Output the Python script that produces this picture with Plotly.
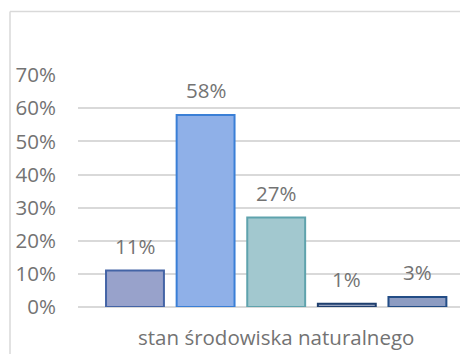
import plotly.graph_objects as go

# Survey answers for a single category, one bar per answer
category = "stan środowiska naturalnego"
values = [11, 58, 27, 1, 3]
fill_colors = ["#98a2cb", "#8fb0e8", "#a2c8cf", "#95a1bf", "#8d9cc2"]
line_colors = ["#4464a6", "#3a7fd6", "#5fa3ad", "#1f3f6e", "#234d86"]
y_ticks = [0, 10, 20, 30, 40, 50, 60, 70]
y_tick_labels = [f"{v}%" for v in y_ticks]

positions = list(range(len(values)))
text_color = "#737373"
grid_color = "#d9d9d9"
font_family = "Open Sans"
font_size = 20.5

fig = go.Figure()
fig.add_trace(go.Bar(
    x=positions,
    y=values,
    width=0.82,
    marker=dict(color=fill_colors, line=dict(color=line_colors, width=2)),
    hoverinfo="skip",
))

# value labels above each bar
for x, v in zip(positions, values):
    fig.add_annotation(
        x=x, y=v, text=f"{v}%", showarrow=False,
        yanchor="middle", yshift=25,
        font=dict(family=font_family, size=font_size, color=text_color),
    )

# chart frame (top and left edges)
frame = dict(type="line", xref="paper", yref="paper",
             line=dict(color=grid_color, width=1.5), layer="below")
fig.add_shape(x0=-0.178, x1=1.05, y0=1.274, y1=1.274, **frame)
fig.add_shape(x0=-0.178, x1=-0.178, y0=-0.25, y1=1.274, **frame)

fig.update_layout(
    width=460, height=354,
    margin=dict(l=78, r=0, t=75, b=47),
    paper_bgcolor="white", plot_bgcolor="white",
    showlegend=False,
    font=dict(family=font_family, size=font_size, color=text_color),
    xaxis=dict(
        range=[-0.807, 4.603],
        tickmode="array", tickvals=[2], ticktext=[category],
        showgrid=False, zeroline=False, showline=False,
        ticks="", ticklabelstandoff=16,
        tickfont=dict(family=font_family, size=font_size, color=text_color),
        fixedrange=True,
    ),
    yaxis=dict(
        range=[0, 70.05],
        tickmode="array", tickvals=y_ticks, ticktext=y_tick_labels,
        showgrid=True, gridcolor=grid_color, gridwidth=1.5,
        zeroline=True, zerolinecolor=grid_color, zerolinewidth=1.5,
        showline=False, ticks="", ticklabelstandoff=21,
        tickfont=dict(family=font_family, size=font_size, color=text_color),
        fixedrange=True,
    ),
)

fig.write_html("out.html", config={"displayModeBar": False})
